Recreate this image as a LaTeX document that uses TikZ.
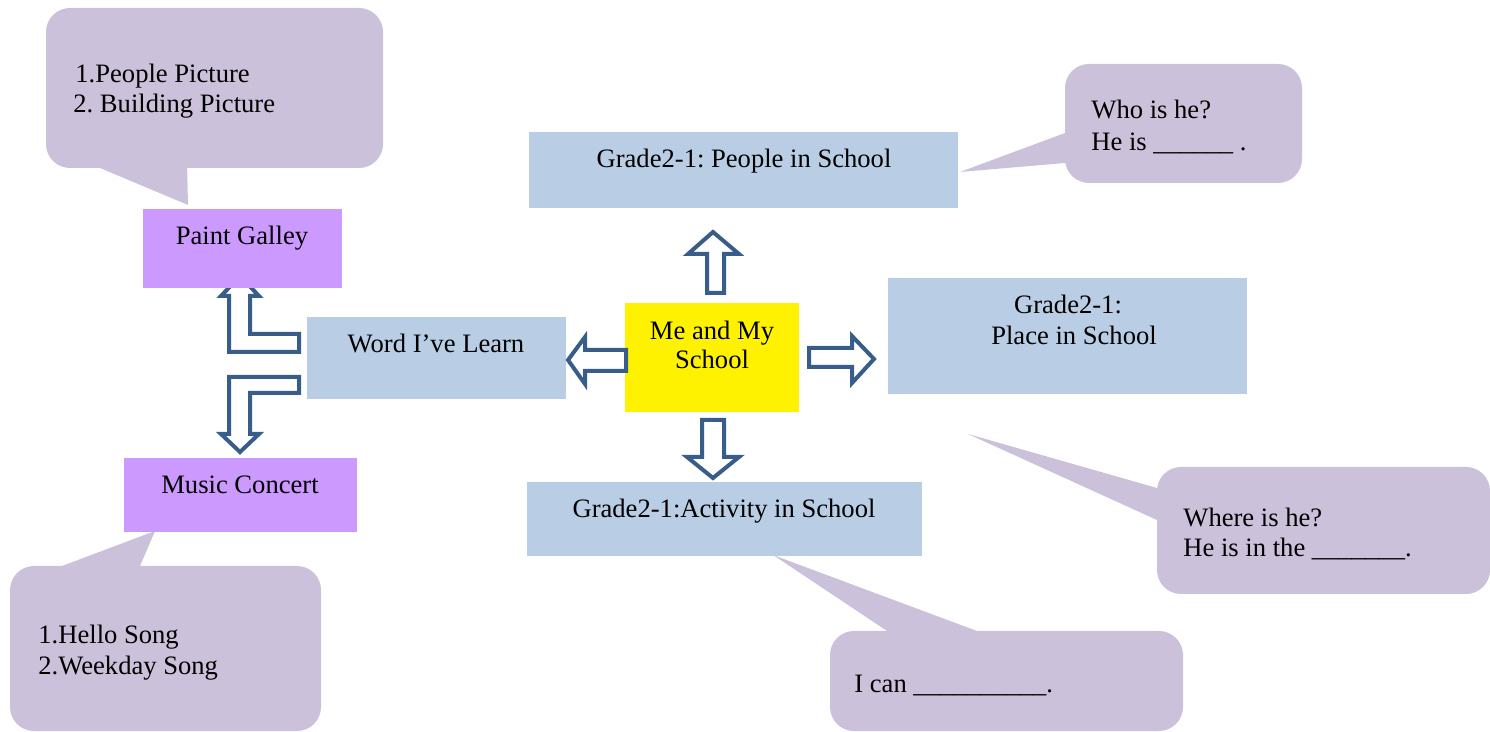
\documentclass[tikz,border=0pt]{standalone}
\usepackage{fontspec}
\setmainfont{Liberation Serif}
\usetikzlibrary{fit}
\frenchspacing
\definecolor{lightblue}{RGB}{185,205,229}
\definecolor{violetbox}{RGB}{204,153,255}
\definecolor{calloutpurple}{RGB}{204,193,218}
\definecolor{arrowblue}{RGB}{56,93,138}
\tikzset{
  box/.style={draw=none, inner sep=0pt, outer sep=0pt},
  bubble/.style={box, fill=calloutpurple, rounded corners=12pt},
  txt/.style={font=\fontsize{13.3}{16}\selectfont\frenchspacing, inner sep=0pt, anchor=base},
  ltxt/.style={txt, anchor=base west},
  blockarrow/.style={draw=arrowblue, line width=2pt, fill=white, line join=miter},
}
\begin{document}
\begin{tikzpicture}[x=0.5pt,y=-0.5pt]
\useasboundingbox (0,0) rectangle (1490,732);

% callouts
\node (c1) [bubble, fit={(46,8)(383,168)}] {};
\fill[calloutpurple] (100,160) -- (100,168) -- (188,205) -- (187,160) -- cycle;
\node (c2) [bubble, fit={(1065,64)(1302,183)}] {};
\fill[calloutpurple] (1075,133) -- (1065,133) -- (960,172) -- (1065,163) -- (1075,163) -- cycle;
\node (c3) [bubble, fit={(1157,467)(1490,594)}] {};
\fill[calloutpurple] (1167,488) -- (1157,488) -- (968,434) -- (1157,520) -- (1167,520) -- cycle;
\node (c4) [bubble, fit={(830,631)(1183,731)}] {};
\fill[calloutpurple] (887,640) -- (887,631) -- (773,555) -- (977,631) -- (977,640) -- cycle;
\node (c5) [bubble, fit={(10,566)(321,731)}] {};
\fill[calloutpurple] (62,575) -- (62,566) -- (155,531) -- (140,566) -- (140,575) -- cycle;

% L-shaped block arrows (under the boxes)
\draw[blockarrow] (299,334) -- (250,334) -- (250,296) -- (259,296) -- (240,276) -- (221,296) -- (229,296) -- (229,352) -- (299,352) -- cycle;
\draw[blockarrow] (299,377) -- (229,377) -- (229,434) -- (221,434) -- (240,452) -- (259,434) -- (250,434) -- (250,393) -- (299,393) -- cycle;

% boxes
\node (paint) [box, fill=violetbox, fit={(143,209)(342,288)}] {};
\node (music) [box, fill=violetbox, fit={(124,458)(357,532)}] {};
\node (word)  [box, fill=lightblue, fit={(307,317)(566,399)}] {};
\node (me)    [box, fill=yellow, fit={(625,303)(799,412)}] {};
\node (gp)    [box, fill=lightblue, fit={(529,132)(958,208)}] {};
\node (gpl)   [box, fill=lightblue, fit={(888,278)(1247,394)}] {};
\node (ga)    [box, fill=lightblue, fit={(527,482)(922,556)}] {};

% central block arrows
\draw[blockarrow] (707,293) -- (707,254) -- (688,254) -- (713,232) -- (739,254) -- (724,254) -- (724,293) -- cycle;
\draw[blockarrow] (702,420) -- (702,457) -- (687,457) -- (713,478) -- (739,457) -- (724,457) -- (724,420) -- cycle;
\draw[blockarrow] (626,350) -- (585,350) -- (585,337) -- (568,360) -- (585,384) -- (585,371) -- (626,371) -- cycle;
\draw[blockarrow] (809,348) -- (852,348) -- (852,336) -- (874,359) -- (852,383) -- (852,367) -- (809,367) -- cycle;

% texts
\node (tpaint) [txt] at (242,245) {Paint Galley};
\node (tmusic) [txt] at (240,494) {Music Concert};
\node (tword)  [txt] at (436,353) {Word I’ve Learn};
\node (tme1)   [txt] at (712,340) {Me and My};
\node (tme2)   [txt] at (712,369) {School};
\node (tgp)    [txt] at (744,168) {Grade2-1: People in School};
\node (tgpl1)  [txt] at (1068,314) {Grade2-1:};
\node (tgpl2)  [txt] at (1074,345) {Place in School};
\node (tga)    [txt] at (724,518) {Grade2-1:Activity in School};

\node (tc1a) [ltxt] at (75,83) {1.People Picture};
\node (tc1b) [ltxt] at (73,113) {2. Building Picture};
\node (tc2a) [ltxt] at (1091,119) {Who is he?};
\node (tc2b) [ltxt] at (1091,151) {He is \_\_\_\_\_\_ .};
\node (tc3a) [ltxt] at (1183,527) {Where is he?};
\node (tc3b) [ltxt] at (1183,557) {He is in the \_\_\_\_\_\_\_.};
\node (tc4)  [ltxt] at (854,693) {I can \_\_\_\_\_\_\_\_\_\_.};
\node (tc5a) [ltxt] at (38,644) {1.Hello Song};
\node (tc5b) [ltxt] at (38,675) {2.Weekday Song};
\end{tikzpicture}
\end{document}
